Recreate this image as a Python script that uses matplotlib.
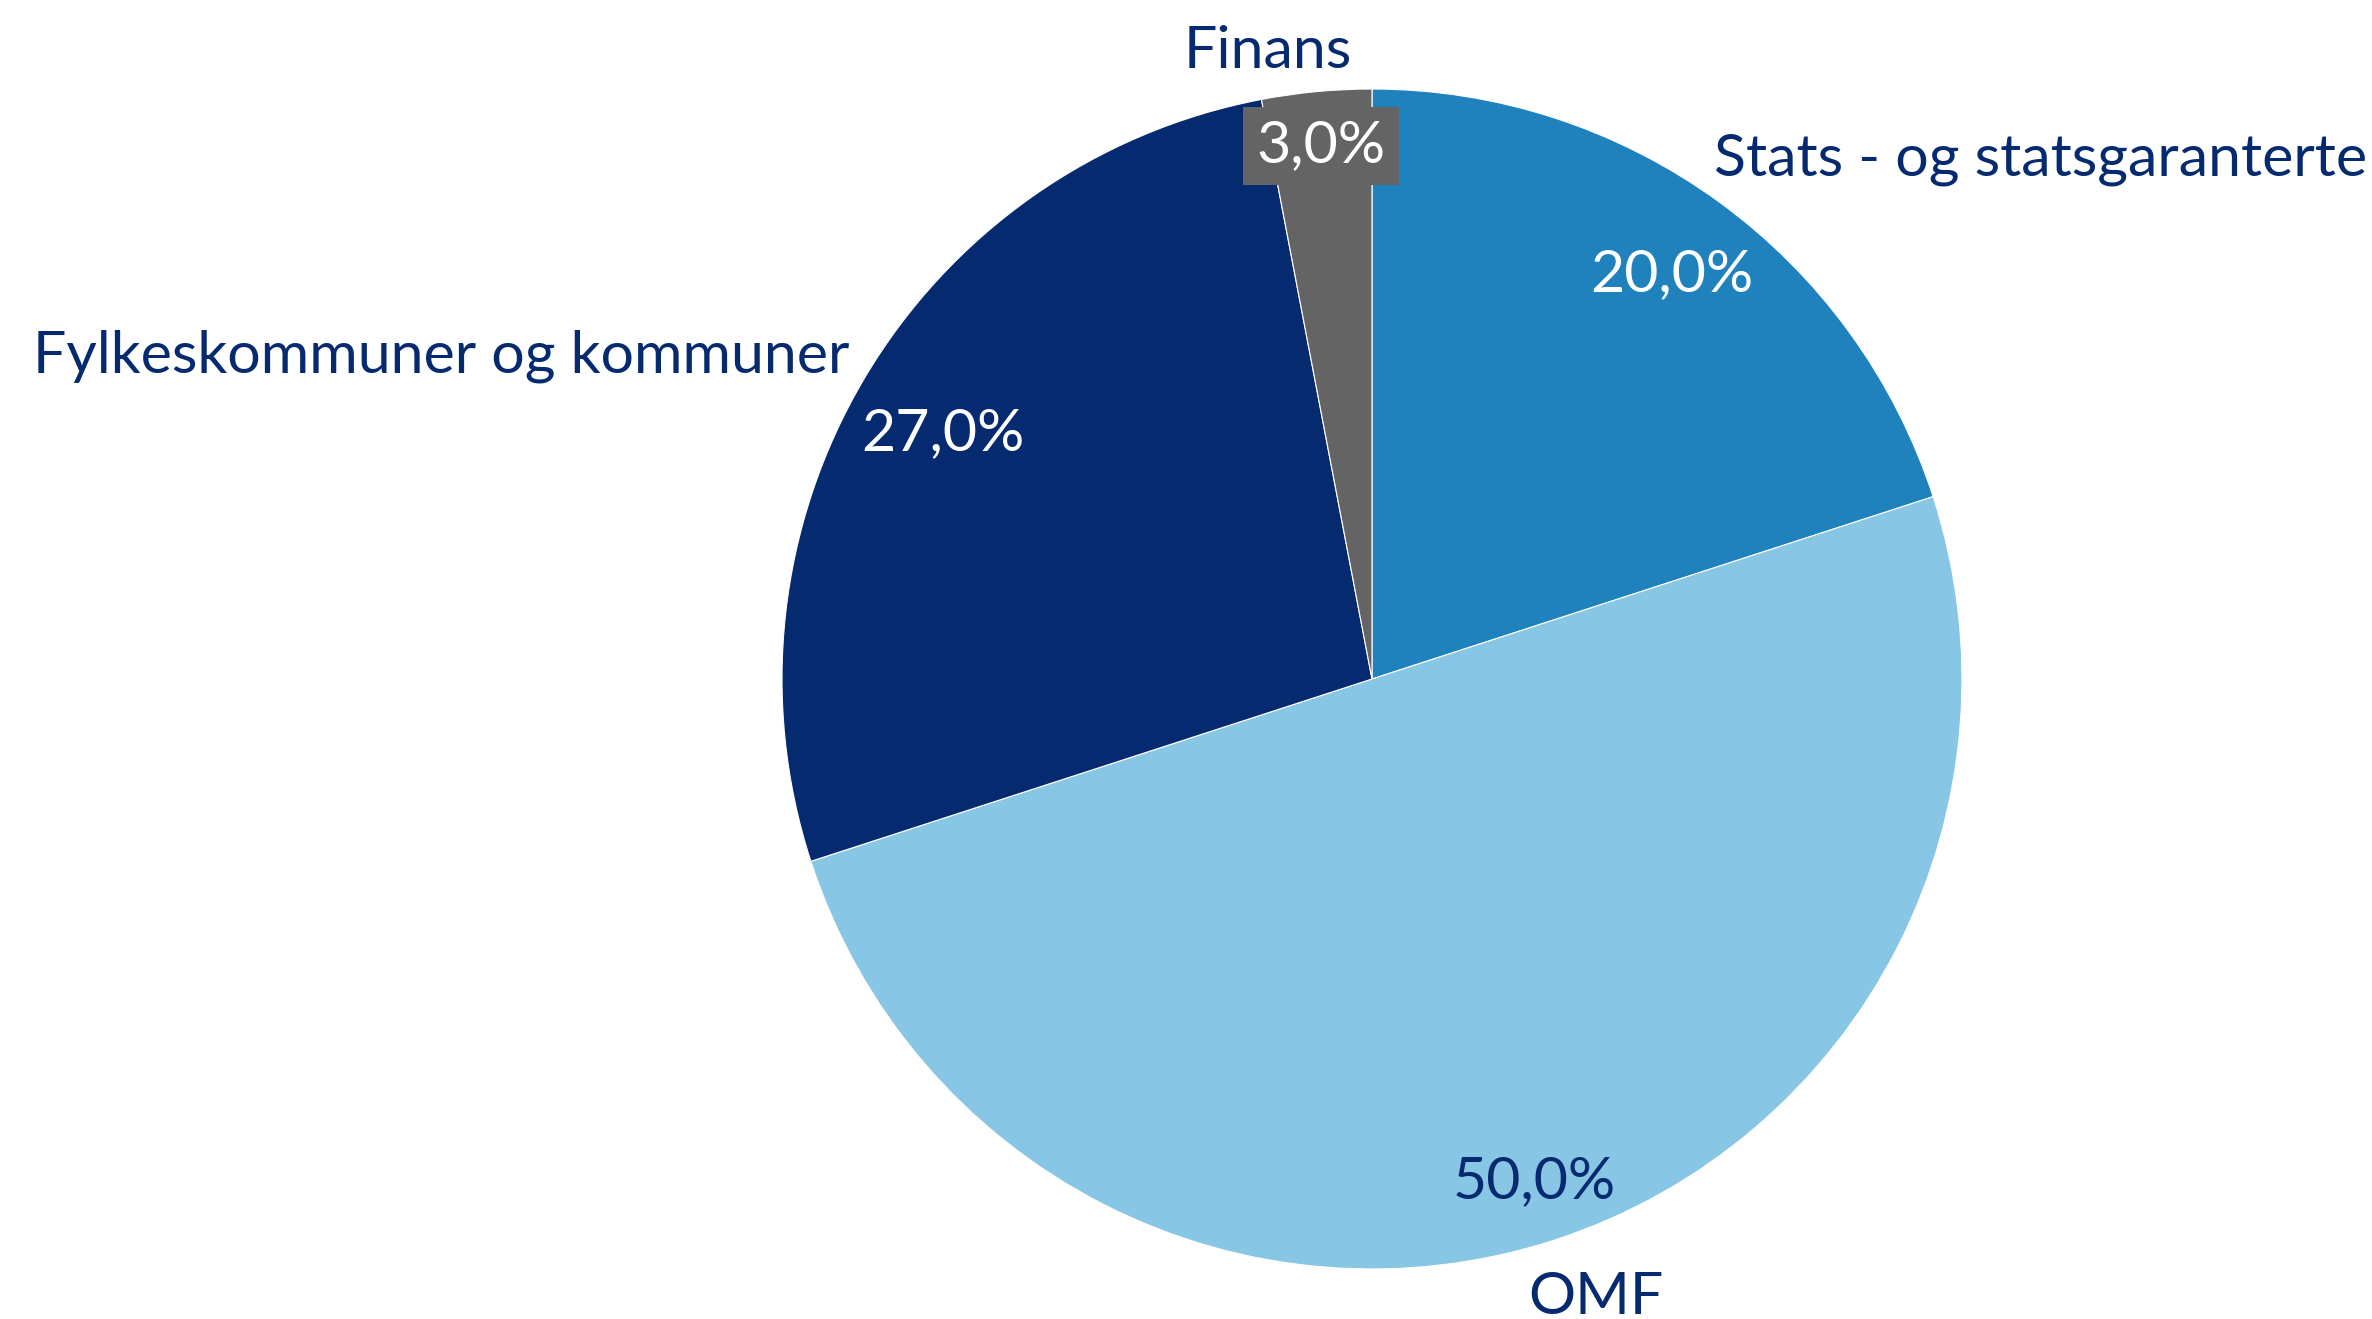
import matplotlib.pyplot as plt

plt.rcParams['font.family'] = ['Lato', 'DejaVu Sans']

labels = ["Stats - og statsgaranterte", "OMF", "Fylkeskommuner og kommuner", "Finans"]
shares = [20.0, 50.0, 27.0, 3.0]
colors = ["#1F82BC", "#87C6E4", "#052A70", "#646464"]
pct_colors = ["white", "#052A70", "white", "white"]

NAVY = "#052A70"
W, H = 2372, 1319
FS = 42.5

fig = plt.figure(figsize=(W / 100, H / 100), dpi=100)
ax = fig.add_axes([0, 0, 1, 1])

# pie in pixel-like units, y measured upward
ax.pie(shares, colors=colors, startangle=90, counterclock=False,
       center=(1372, H - 679), radius=590, frame=True,
       wedgeprops=dict(edgecolor='white', linewidth=0.8))
ax.set_xlim(0, W)
ax.set_ylim(0, H)
ax.set_aspect('equal')
ax.axis('off')

def fmt(v):
    return f"{v:.1f}".replace('.', ',') + "%"

def put(x, y, s, **kw):
    # x, y given from the top-left corner of the image
    ax.text(x, H - y - 4, s, va='center', fontsize=FS, **kw)

# category labels
put(33, 352, labels[2], ha='left', color=NAVY)
put(1714, 156, labels[0], ha='left', color=NAVY)
put(1268, 48, labels[3], ha='center', color=NAVY)
put(1596, 1293, labels[1], ha='center', color=NAVY)

# percentage labels
put(1672, 271, fmt(shares[0]), ha='center', color=pct_colors[0])
put(1534, 1178, fmt(shares[1]), ha='center', color=pct_colors[1])
put(943, 430, fmt(shares[2]), ha='center', color=pct_colors[2])
put(1321, 142, fmt(shares[3]), ha='center', color=pct_colors[3],
    bbox=dict(boxstyle='square,pad=0.22', facecolor=colors[3], edgecolor='none'))

fig.savefig("out.png", dpi=100)
